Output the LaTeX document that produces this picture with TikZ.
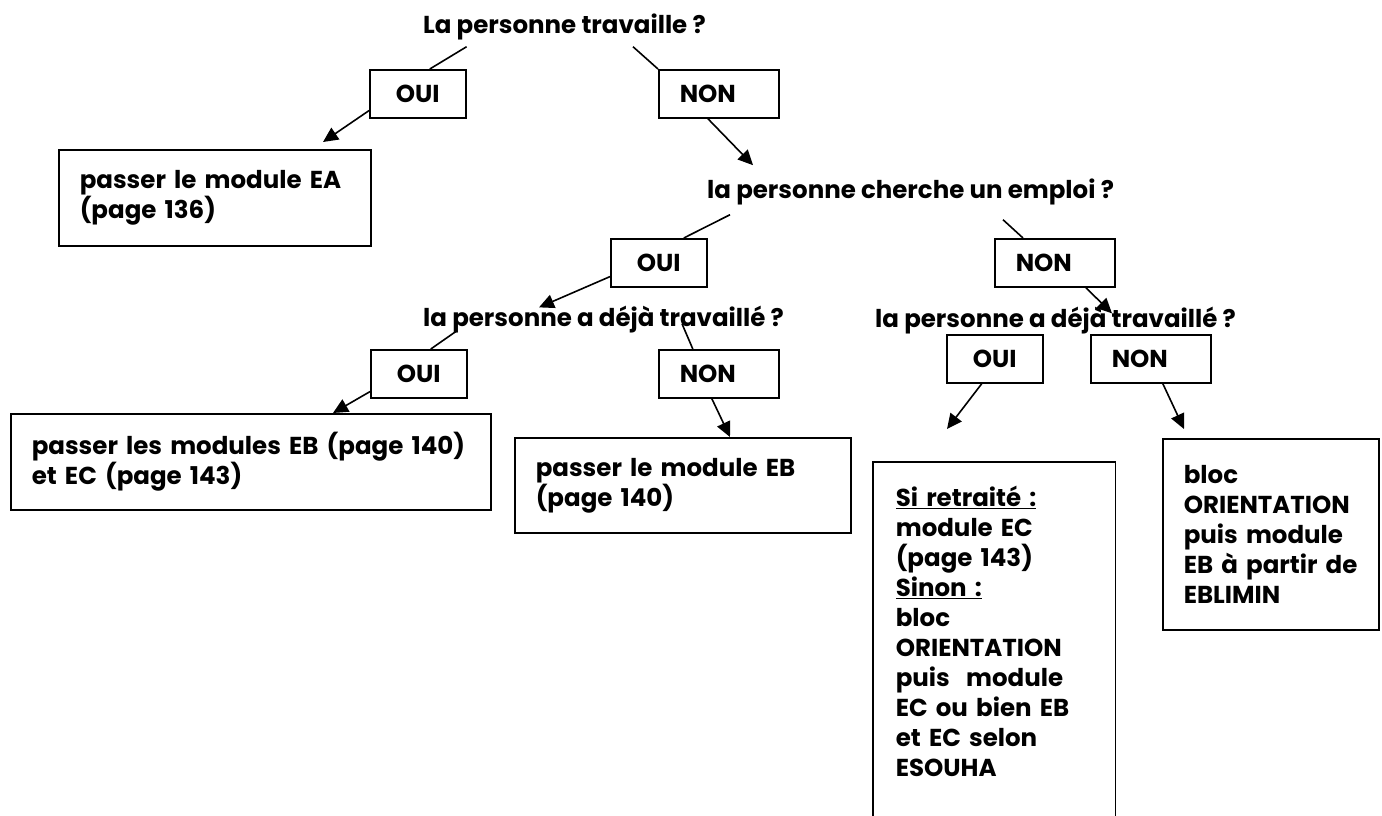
\documentclass[tikz,border=0pt]{standalone}
\usepackage{fontspec}
\setmainfont{Poppins}
\usetikzlibrary{arrows.meta,calc,positioning}
\tikzset{%
txt/.style={font=\bfseries\fontsize{24.5}{30}\selectfont, inner sep=0pt},
question/.style={txt, anchor=base west},
answer/.style={txt, draw, line width=1.6pt, anchor=north west, minimum height=48pt},
oui/.style={answer, minimum width=96pt},
non/.style={answer, align=left, text width=78pt, inner xsep=21pt},
result/.style={txt, draw, line width=1.6pt, anchor=north west, align=left, inner xsep=21pt},
arr/.style={line width=1.6pt, -{Triangle[length=15pt,width=14pt]}},
link/.style={line width=1.6pt}
}

\begin{document}
\begin{tikzpicture}[x=1pt,y=-1pt]
\useasboundingbox (0,0) rectangle (1382,815);

% questions
\node[question] (q1) at (423,33) {La personne travaille ?};
\node[question] (q2) at (707,198) {la personne cherche un emploi ?};
\node[question] (q3) at (423,326) {la personne a déjà travaillé ?};
\node[question] (q4) at (875,327) {la personne a déjà travaillé ?};

% OUI / NON
\node[oui] (oui1) at (369,69) {OUI};
\node[non] (non1) at (658,69) {NON};
\node[oui] (oui2) at (610,238) {OUI};
\node[non] (non2) at (994,238) {NON};
\node[oui] (oui3) at (370,349) {OUI};
\node[non] (non3) at (658,349) {NON};
\node[oui] (oui4) at (946,334) {OUI};
\node[non] (non4) at (1090,334) {NON};

% boxes
\node[result, text width=270pt, minimum height=96pt] (ea) at (58,149)
  {passer le module EA\\(page 136)};
\node[result, text width=438pt, minimum height=96pt] (ebec) at (10,413)
  {passer les modules EB (page 140)\\et EC (page 143)};
\node[result, text width=294pt, minimum height=95pt] (eb) at (514,437)
  {passer le module EB\\(page 140)};
\node[result, text width=174pt, minimum height=191pt] (bloc) at (1162,438)
  {bloc\\ORIENTATION\\puis module\\EB à partir de\\EBLIMIN};
\node[result, draw=none, inner xsep=22pt, text width=197pt, minimum height=337pt] (retraite) at (873,462)
  {\underline{Si retraité :}\\module EC\\(page 143)\\\underline{Sinon :}\\bloc\\ORIENTATION\\puis\ \ module\\EC ou bien EB\\et EC selon\\ESOUHA};
% open at the bottom of the page
\draw[link] ([yshift=-16pt]retraite.south west) |- (retraite.north east) -- ([yshift=-16pt]retraite.south east);

% connectors
\draw[link] (q1.south -| oui1.east) ++(0,7) -- ([xshift=12pt]oui1.north);
\draw[link] (q1.south west) ++(210,7) -- (non1.north west);
\draw[arr] ([yshift=8pt]oui1.south west) -- ($(ea.north west)+(265,-7)$);
\draw[arr] ([xshift=-11pt]non1.south) -- ($(q2.north west)+(46,-13)$);

\draw[link] ($(q2.south west)+(23,10)$) -- ([xshift=25pt]oui2.north);
\draw[link] ($(q2.south west)+(296,15)$) -- ([xshift=29pt]non2.north west);
\draw[arr] ([yshift=11pt]oui2.south west) -- ($(q3.north west)+(116,2)$);
\draw[arr] ([xshift=31pt]non2.south) -- ($(q4.north west)+(237,7)$);

\draw[link] ($(q3.south west)+(34,-2)$) -- ([xshift=12pt]oui3.north);
\draw[link] ($(q3.south west)+(259,-9)$) -- ([xshift=-26pt]non3.north);
\draw[arr] ([yshift=7pt]oui3.south west) -- ($(ebec.north west)+(323,0)$);
\draw[arr] ([xshift=-7pt]non3.south) -- ($(eb.north west)+(216,0)$);

\draw[arr] ([xshift=-13pt]oui4.south) -- ($(retraite.north west)+(74,-33)$);
\draw[arr] ([xshift=12pt]non4.south) -- ($(bloc.north west)+(22,-9)$);

\end{tikzpicture}
\end{document}
